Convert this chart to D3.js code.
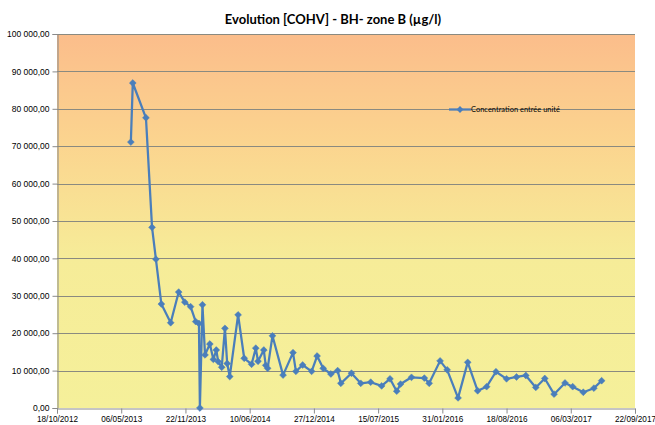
<!DOCTYPE html>
<html>
<head>
<meta charset="utf-8">
<script src="https://cdn.jsdelivr.net/npm/d3@7.9.0/dist/d3.min.js"></script>
<style>
  body { margin: 0; background: #fff; }
  svg { display: block; font-family: Lato, "Open Sans", sans-serif; }
</style>
</head>
<body>
<svg id="chart" width="655" height="425"></svg>
<script>
// sampling dates (dd/mm/yyyy) and concentrations (µg/l)
const dates = [
  "05/06/2013", "11/06/2013", "22/07/2013", "10/08/2013", "22/08/2013", "08/09/2013",
  "07/10/2013", "01/11/2013", "20/11/2013", "08/12/2013", "24/12/2013", "03/01/2014",
  "06/01/2014", "14/01/2014", "22/01/2014", "06/02/2014", "17/02/2014", "26/02/2014",
  "04/03/2014", "15/03/2014", "25/03/2014", "01/04/2014", "09/04/2014", "05/05/2014",
  "24/05/2014", "16/06/2014", "29/06/2014", "06/07/2014", "24/07/2014", "30/07/2014",
  "05/08/2014", "20/08/2014", "22/09/2014", "23/10/2014", "01/11/2014", "22/11/2014",
  "20/12/2014", "06/01/2015", "25/01/2015", "18/02/2015", "11/03/2015", "21/03/2015",
  "23/04/2015", "22/05/2015", "22/06/2015", "26/07/2015", "21/08/2015", "11/09/2015",
  "23/09/2015", "27/10/2015", "06/12/2015", "21/12/2015", "24/01/2016", "15/02/2016",
  "20/03/2016", "19/04/2016", "20/05/2016", "17/06/2016", "16/07/2016", "18/08/2016",
  "18/09/2016", "17/10/2016", "17/11/2016", "15/12/2016", "13/01/2017", "16/02/2017",
  "12/03/2017", "14/04/2017", "17/05/2017", "10/06/2017"
];
const concentration = [
  71100, 86900, 77600, 48300, 39800, 27800,
  22800, 31000, 28300, 27100, 23100, 22600,
  0, 27600, 14200, 17100, 13000, 15500,
  12400, 10900, 21300, 11900, 8400, 24900,
  13300, 11700, 16000, 12500, 15500, 11400,
  10600, 19300, 8800, 14800, 9800, 11500,
  9800, 13900, 10600, 9100, 10000, 6600,
  9300, 6600, 6900, 5900, 7800, 4500,
  6400, 8200, 8000, 6600, 12600, 10200,
  2700, 12200, 4600, 5700, 9700, 7800,
  8300, 8700, 5500, 7900, 3700, 6700,
  5700, 4200, 5300, 7300
];
const xTickLabels = [
  "18/10/2012", "06/05/2013", "22/11/2013", "10/06/2014", "27/12/2014",
  "15/07/2015", "31/01/2016", "18/08/2016", "06/03/2017", "22/09/2017"
];
const yTicks = [0, 10000, 20000, 30000, 40000, 50000, 60000, 70000, 80000, 90000, 100000];
const seriesName = "Concentration entrée unité";
const title = "Evolution [COHV] - BH- zone B (µg/l)";

const parseDate = d3.timeParse("%d/%m/%Y");
const data = dates.map((d, i) => ({ date: parseDate(d), value: concentration[i] }));
const tickDates = xTickLabels.map(parseDate);

const frLocale = d3.formatLocale({ decimal: ",", thousands: "\u00a0", grouping: [3], currency: ["", ""] });
const yFormat = frLocale.format(",.2f");

const margin = { top: 34, right: 20, bottom: 17, left: 57 };
const width = 655, height = 425;
const svg = d3.select("#chart");

const x = d3.scaleTime()
  .domain([tickDates[0], tickDates[tickDates.length - 1]])
  .range([margin.left, width - margin.right]);
const y = d3.scaleLinear()
  .domain([0, 100000])
  .range([height - margin.bottom, margin.top]);

// plot area background gradient
const grad = svg.append("defs").append("linearGradient")
  .attr("id", "bg").attr("x1", 0).attr("y1", 0).attr("x2", 0).attr("y2", 1);
grad.append("stop").attr("offset", "0%").attr("stop-color", "#fbbd8b");
grad.append("stop").attr("offset", "30%").attr("stop-color", "#fbd58f");
grad.append("stop").attr("offset", "60%").attr("stop-color", "#f6ec98");
grad.append("stop").attr("offset", "100%").attr("stop-color", "#f5f09a");

svg.append("rect")
  .attr("x", x.range()[0]).attr("y", y(100000))
  .attr("width", x.range()[1] - x.range()[0])
  .attr("height", y(0) - y(100000))
  .attr("fill", "url(#bg)");

// horizontal gridlines
svg.append("g").selectAll("line")
  .data(yTicks.filter(v => v > 0))
  .join("line")
  .attr("x1", x.range()[0]).attr("x2", x.range()[1])
  .attr("y1", d => Math.round(y(d)) + 0.5).attr("y2", d => Math.round(y(d)) + 0.5)
  .attr("stroke", "#8a8a80").attr("stroke-width", 1);

// y axis
const yAxis = svg.append("g")
  .attr("transform", `translate(${x.range()[0] + 0.5},0)`)
  .call(d3.axisLeft(y).tickValues(yTicks).tickFormat(yFormat).tickSize(5).tickPadding(3));
yAxis.select(".domain").attr("stroke", "#8a8a8a");
yAxis.selectAll(".tick line").attr("stroke", "#8a8a8a");
yAxis.selectAll("text").attr("font-size", 8.5).attr("fill", "#000");

// x axis
const xAxis = svg.append("g")
  .attr("transform", `translate(0,${Math.round(y(0)) + 0.5})`)
  .call(d3.axisBottom(x).tickValues(tickDates).tickFormat(d3.timeFormat("%d/%m/%Y")).tickSize(5).tickPadding(3));
xAxis.select(".domain").attr("stroke", "#8a8a8a");
xAxis.selectAll(".tick line").attr("stroke", "#8a8a8a");
xAxis.selectAll("text").attr("font-size", 8.2).attr("fill", "#000");

// series line
const lineColor = "#4a7ebb";
svg.append("path")
  .datum(data)
  .attr("fill", "none")
  .attr("stroke", lineColor)
  .attr("stroke-width", 2.25)
  .attr("stroke-linejoin", "round")
  .attr("d", d3.line().x(d => x(d.date)).y(d => y(d.value)));

const diamond = d3.symbol().type(d3.symbolDiamond2).size(30);
svg.append("g").selectAll("path")
  .data(data)
  .join("path")
  .attr("transform", d => `translate(${x(d.date)},${y(d.value)})`)
  .attr("d", diamond)
  .attr("fill", lineColor)
  .attr("stroke", lineColor)
  .attr("stroke-width", 0.5);

// legend
const legend = svg.append("g").attr("transform", `translate(449,${Math.round(y(80000)) + 0.5})`);
legend.append("line").attr("x1", 0).attr("x2", 22).attr("stroke", lineColor).attr("stroke-width", 2.25);
legend.append("path").attr("transform", "translate(11,0)").attr("d", diamond).attr("fill", lineColor);
legend.append("text")
  .attr("x", 22).attr("y", 0).attr("dy", "0.35em")
  .attr("font-size", 7.5).attr("fill", "#000")
  .text(seriesName);

// title
svg.append("text")
  .attr("x", 333).attr("y", 24)
  .attr("text-anchor", "middle")
  .attr("font-size", 13).attr("font-weight", "bold").attr("fill", "#000")
  .text(title);
</script>
</body>
</html>
